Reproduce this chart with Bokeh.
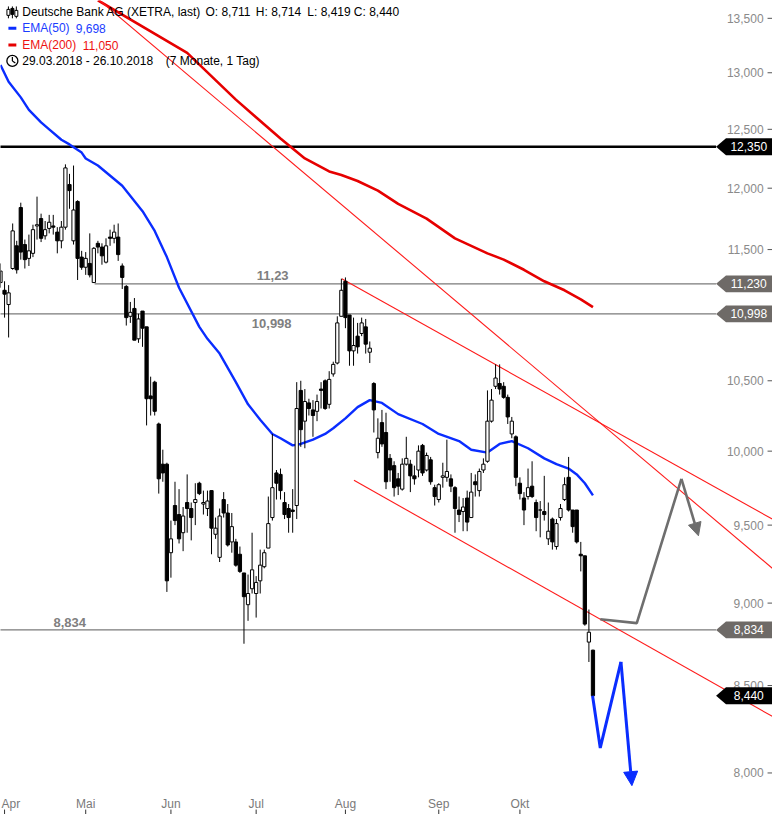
import math
from bokeh.plotting import figure
from bokeh.models import Range1d, Arrow, NormalHead, ColumnDataSource
from bokeh.core.properties import value
from bokeh.embed import file_html
from bokeh.resources import INLINE

# ---------------- data (Deutsche Bank AG, XETRA, daily, 29.03.2018 - 26.10.2018) ----------------
opens = [11.24, 11.18, 11.07, 11.35, 11.53, 11.84, 11.54, 11.43, 11.47, 11.69,
         11.75, 11.61, 11.67, 11.69, 11.64, 11.57, 11.68, 12.03, 11.57, 11.89,
         11.44, 11.36, 11.39, 11.24, 11.55, 11.52, 11.40, 11.60, 11.59, 11.60,
         11.37, 11.21, 10.98, 11.04, 10.81, 11.02, 10.90, 10.39, 10.49, 10.19,
         9.91, 9.91, 9.32, 9.63, 9.57, 9.45, 9.65, 9.61, 9.65, 9.78,
         9.64, 9.61, 9.73, 9.44, 9.29, 9.67, 9.58, 9.39, 9.39, 9.31,
         9.19, 8.99, 9.09, 9.06, 9.14, 9.23, 9.35, 9.55, 9.85, 9.84,
         9.65, 9.61, 9.60, 9.63, 10.43, 10.21, 10.34, 10.29, 10.28, 10.44,
         10.50, 10.33, 10.55, 10.63, 10.98, 11.25, 10.99, 10.72, 10.83, 10.85,
         10.90, 10.71, 10.48, 9.99, 10.20, 10.13, 9.95, 9.90, 9.81, 9.74,
         9.91, 9.91, 9.83, 9.87, 10.04, 9.87, 9.94, 9.75, 9.67, 9.82,
         9.82, 9.81, 9.75, 9.60, 9.59, 9.68, 9.55, 9.79, 9.73, 9.87,
         9.93, 10.21, 10.46, 10.48, 10.46, 10.38, 10.12, 10.10, 9.78, 9.68,
         9.69, 9.76, 9.65, 9.60, 9.59, 9.41, 9.54, 9.36, 9.55, 9.67,
         9.82, 9.60, 9.60, 9.31, 9.30, 8.76, 8.711]
highs = [11.39, 11.25, 11.22, 11.71, 11.57, 11.88, 11.58, 11.62, 11.70, 11.93,
         11.79, 11.73, 11.78, 11.78, 11.68, 11.73, 12.20, 12.12, 12.19, 11.90,
         11.49, 11.48, 11.63, 11.52, 11.57, 11.55, 11.59, 11.66, 11.70, 11.71,
         11.39, 11.22, 11.09, 11.12, 11.00, 11.02, 10.90, 10.53, 10.50, 10.20,
         10.01, 9.92, 9.53, 9.79, 9.74, 9.62, 9.84, 9.65, 9.78, 9.79,
         9.73, 9.73, 9.73, 9.55, 9.61, 9.72, 9.64, 9.58, 9.41, 9.36,
         9.19, 9.18, 9.45, 9.17, 9.34, 9.34, 9.69, 10.12, 9.87, 9.88,
         9.72, 9.64, 9.74, 10.49, 10.50, 10.44, 10.37, 10.36, 10.40, 10.49,
         10.51, 10.57, 10.64, 10.98, 11.27, 11.28, 10.99, 10.97, 10.93, 10.97,
         10.96, 10.79, 10.49, 10.23, 10.29, 10.27, 9.98, 9.93, 9.85, 9.95,
         10.10, 9.94, 9.90, 10.04, 10.05, 9.99, 9.96, 9.77, 9.78, 9.92,
         10.08, 9.84, 9.76, 9.69, 9.68, 9.73, 9.85, 9.84, 9.88, 9.95,
         10.43, 10.44, 10.62, 10.62, 10.49, 10.40, 10.24, 10.11, 9.82, 9.72,
         9.88, 9.93, 9.67, 9.66, 9.83, 9.65, 9.55, 9.54, 9.64, 9.82,
         9.96, 9.60, 9.60, 9.39, 9.30, 8.96, 8.714]
lows = [11.20, 10.97, 10.82, 11.34, 11.31, 11.42, 11.35, 11.37, 11.44, 11.58,
        11.56, 11.58, 11.63, 11.62, 11.47, 11.51, 11.66, 11.83, 11.54, 11.26,
        11.34, 11.30, 11.28, 11.24, 11.47, 11.38, 11.39, 11.53, 11.55, 11.41,
        11.19, 10.91, 10.93, 10.80, 10.78, 10.75, 10.18, 10.25, 10.25, 9.71,
        9.79, 9.07, 9.16, 9.50, 9.38, 9.33, 9.45, 9.40, 9.50, 9.70,
        9.57, 9.56, 9.31, 9.41, 9.26, 9.55, 9.36, 9.32, 9.23, 9.19,
        8.75, 8.89, 9.06, 8.91, 9.06, 9.22, 9.35, 9.53, 9.67, 9.67,
        9.54, 9.45, 9.45, 9.54, 10.03, 10.02, 10.25, 10.10, 10.21, 10.30,
        10.29, 10.30, 10.53, 10.62, 10.98, 10.89, 10.61, 10.61, 10.70, 10.83,
        10.70, 10.63, 10.13, 9.95, 10.03, 9.74, 9.79, 9.69, 9.70, 9.73,
        9.90, 9.72, 9.77, 9.82, 9.83, 9.86, 9.77, 9.63, 9.65, 9.75,
        9.79, 9.72, 9.45, 9.52, 9.46, 9.46, 9.55, 9.69, 9.69, 9.85,
        9.92, 10.20, 10.44, 10.40, 10.37, 10.19, 10.09, 9.76, 9.67, 9.50,
        9.67, 9.68, 9.46, 9.42, 9.53, 9.37, 9.34, 9.34, 9.53, 9.66,
        9.59, 9.45, 9.38, 9.20, 8.86, 8.64, 8.419]
closes = [11.33, 11.15, 11.16, 11.65, 11.34, 11.48, 11.42, 11.49, 11.66, 11.70,
          11.59, 11.66, 11.72, 11.68, 11.57, 11.68, 12.17, 11.98, 11.82, 11.43,
          11.36, 11.43, 11.30, 11.51, 11.52, 11.45, 11.53, 11.59, 11.64, 11.46,
          11.28, 10.97, 11.01, 10.80, 10.96, 10.89, 10.37, 10.37, 10.28, 9.81,
          9.85, 9.14, 9.41, 9.53, 9.41, 9.56, 9.61, 9.55, 9.67, 9.71,
          9.65, 9.66, 9.48, 9.48, 9.56, 9.58, 9.37, 9.49, 9.24, 9.20,
          9.04, 9.06, 9.21, 9.13, 9.24, 9.32, 9.51, 9.75, 9.78, 9.73,
          9.57, 9.55, 9.59, 10.30, 10.15, 10.35, 10.30, 10.25, 10.35, 10.43,
          10.30, 10.51, 10.62, 10.93, 11.18, 10.97, 10.72, 10.76, 10.75, 10.93,
          10.77, 10.74, 10.29, 10.09, 10.05, 9.79, 9.87, 9.75, 9.76, 9.91,
          9.95, 9.83, 9.81, 10.00, 9.85, 9.97, 9.79, 9.69, 9.77, 9.83,
          9.86, 9.76, 9.61, 9.57, 9.62, 9.52, 9.72, 9.77, 9.86, 9.91,
          10.21, 10.36, 10.52, 10.44, 10.38, 10.24, 10.21, 9.82, 9.71, 9.60,
          9.75, 9.69, 9.55, 9.60, 9.57, 9.46, 9.39, 9.51, 9.61, 9.77,
          9.60, 9.49, 9.39, 9.30, 8.87, 8.82, 8.440]

ema50_idx = [0, 2, 5, 7, 10, 12, 15, 17, 20, 21, 24, 30, 35, 38, 41, 44, 49, 51, 54, 58,
             61, 64, 67, 69, 72, 74, 77, 80, 82, 85, 88, 91, 94, 98, 104, 108, 113, 116, 120, 123,
             126, 130, 134, 137, 140, 142, 144, 146]
ema50_val = [13.07, 12.92, 12.78, 12.67, 12.56, 12.50, 12.41, 12.37, 12.30, 12.25,
             12.19, 12.02, 11.81, 11.65, 11.44, 11.20, 10.90, 10.81, 10.70, 10.49,
             10.33, 10.22, 10.12, 10.09, 10.04, 10.05, 10.08, 10.12, 10.16, 10.23,
             10.31, 10.36, 10.34, 10.26, 10.19, 10.12, 10.07, 10.01, 9.99, 10.05,
             10.07, 10.02, 9.95, 9.91, 9.88, 9.84, 9.78, 9.698]
ema200_idx = [24, 46, 58, 69, 75, 81, 84, 88, 93, 98, 105, 112, 120, 124, 129, 134, 139, 143, 146]
ema200_val = [13.67, 13.18, 12.76, 12.42, 12.25, 12.14, 12.11, 12.06, 11.98, 11.87,
              11.75, 11.59, 11.47, 11.42, 11.34, 11.25, 11.18, 11.11, 11.05]

month_labels = ["Apr", "Mai", "Jun", "Jul", "Aug", "Sep", "Okt"]
month_idx = [1, 21, 42, 63, 85, 108, 128]

ytick_vals = [8.0, 8.5, 9.0, 9.5, 10.0, 10.5, 11.0, 11.5, 12.0, 12.5, 13.0, 13.5]
ytick_labels = ["8,000", "8,500", "9,000", "9,500", "10,000", "10,500",
                "11,000", "11,500", "12,000", "12,500", "13,000", "13,500"]

level_vals = [12.35, 11.23, 10.998, 8.834]
level_labels = ["12,350", "11,230", "10,998", "8,834"]
level_colors = ["#000000", "#6e6a67", "#6e6a67", "#6e6a67"]
level_start_idx = [None, 23.2, None, None]
last_close = 8.44
last_close_label = "8,440"

note_labels = ["11,23", "10,998", "8,834"]
note_vals = [11.23, 10.998, 8.834]

# drawn trend lines (start index, start price, end index, end price)
trend_x0 = [24.4, 84.1, 87.1]
trend_p0 = [13.67, 11.27, 9.80]
trend_x1 = [190.2, 190.2, 190.2]
trend_p1 = [9.22, 9.54, 8.32]

# projection arrows
proj_grey_idx = [147.8, 156.8, 167.8, 172.0]
proj_grey_val = [8.90, 8.876, 9.81, 9.43]
proj_blue_idx = [145.9, 147.8, 152.9, 155.6]
proj_blue_val = [8.44, 8.14, 8.64, 7.93]

# ---------------- geometry helpers (reference pixel -> data) ----------------
PX_PER_DAY = 4.1
PX_PER_LN = 1456.4
REF_PX, REF_PRICE = 18.0, 13.5


def xd(px):
    return px / PX_PER_DAY


def yd(py):
    return REF_PRICE * math.exp(-(py - REF_PX) / PX_PER_LN)


def yoff(price, dpx):
    return price * math.exp(-dpx / PX_PER_LN)


FONT = value("Liberation Sans")

p = figure(width=772, height=814,
           x_range=Range1d(xd(0), xd(780)), y_range=Range1d(yd(822), yd(0)),
           y_axis_type="log", x_axis_location=None, y_axis_location=None,
           toolbar_location=None, output_backend="svg", min_border=0,
           outline_line_color=None, background_fill_color="white",
           border_fill_color="white")
p.xgrid.visible = False
p.ygrid.visible = False

# ---------------- level lines ----------------
x_left = xd(-2)
x_right = xd(723)
for v, st, col in zip(level_vals, level_start_idx, level_colors):
    x0 = x_left if st is None else st
    if col == "#000000":
        p.segment(x0=[x0], y0=[v], x1=[x_right], y1=[v], line_color="black", line_width=2.6)
    else:
        p.segment(x0=[x0], y0=[v], x1=[x_right], y1=[v], line_color="#7a7a7a", line_width=1.2)

# ---------------- EMAs ----------------
p.line(ema200_idx, ema200_val, line_color="#e60000", line_width=2.6)
p.line(ema50_idx, ema50_val, line_color="#0a2dff", line_width=2.4)

# ---------------- trend lines ----------------
p.segment(x0=trend_x0, y0=trend_p0, x1=trend_x1, y1=trend_p1, line_color="#ff1a1a", line_width=1.1)

# ---------------- candles ----------------
n = len(opens)
idx = list(range(n))
src = ColumnDataSource(dict(
    x=idx, h=highs, l=lows,
    top=[max(o, c) for o, c in zip(opens, closes)],
    bot=[min(o, c) for o, c in zip(opens, closes)],
    fill=["white" if c >= o else "black" for o, c in zip(opens, closes)],
))
p.segment(x0="x", y0="h", x1="x", y1="l", source=src, line_color="black", line_width=1)
p.vbar(x="x", top="top", bottom="bot", width=0.8, fill_color="fill",
       line_color="black", line_width=1, source=src)

# ---------------- projections ----------------
p.line(proj_grey_idx[:3], proj_grey_val[:3], line_color="#6e6e6e", line_width=2.6)
p.add_layout(Arrow(end=NormalHead(size=13, fill_color="#6e6e6e", line_color="#6e6e6e"),
                   x_start=proj_grey_idx[2], y_start=proj_grey_val[2],
                   x_end=proj_grey_idx[3], y_end=proj_grey_val[3],
                   line_color="#6e6e6e", line_width=2.6))
p.line(proj_blue_idx[:3], proj_blue_val[:3], line_color="#0a2dff", line_width=3)
p.add_layout(Arrow(end=NormalHead(size=14, fill_color="#0a2dff", line_color="#0a2dff"),
                   x_start=proj_blue_idx[2], y_start=proj_blue_val[2],
                   x_end=proj_blue_idx[3], y_end=proj_blue_val[3],
                   line_color="#0a2dff", line_width=3))

# ---------------- notes on level lines ----------------
note_dy = [-8, 10, -8]
note_x = [275, 274, 70]
for lab, v, dy, nx in zip(note_labels, note_vals, note_dy, note_x):
    p.text(x=[xd(nx)], y=[yoff(v, dy)], text=[lab], text_align="center", text_baseline="middle",
           text_font=FONT, text_font_style="bold", text_font_size="13px", text_color="#808080")

# ---------------- right-hand price scale ----------------
p.text(x=[xd(771)] * len(ytick_vals), y=ytick_vals, text=ytick_labels,
       text_align="right", text_baseline="middle", text_font=FONT,
       text_font_size="12px", text_color="#8a8a8a")
p.segment(x0=[xd(775)] * len(ytick_vals), y0=ytick_vals, x1=[xd(781)] * len(ytick_vals),
          y1=ytick_vals, line_color="#555555", line_width=1)

# price tags
tag_vals = level_vals + [last_close]
tag_labels = level_labels + [last_close_label]
tag_colors = level_colors + ["#000000"]
xs, ys = [], []
for v in tag_vals:
    xs.append([xd(723), xd(733), xd(782), xd(782), xd(733)])
    ys.append([v, yoff(v, -8.5), yoff(v, -8.5), yoff(v, 8.5), yoff(v, 8.5)])
p.patches(xs, ys, fill_color=tag_colors, line_color=None)
p.text(x=[xd(756)] * len(tag_vals), y=tag_vals, text=tag_labels, text_align="center",
       text_baseline="middle", text_font=FONT, text_font_size="12px", text_color="white")

# ---------------- month axis ----------------
p.text(x=[xd(1)], y=[yd(811)], text=[month_labels[0]], text_align="left",
       text_baseline="middle", text_font=FONT, text_font_size="12px", text_color="#7a7a7a")
p.text(x=month_idx[1:], y=[yd(811)] * (len(month_idx) - 1), text=month_labels[1:], text_align="center",
       text_baseline="middle", text_font=FONT, text_font_size="12px", text_color="#7a7a7a")
p.segment(x0=month_idx, y0=[yd(817)] * len(month_idx), x1=month_idx,
          y1=[yd(824)] * len(month_idx), line_color="#333333", line_width=1)

# ---------------- header ----------------
HY = [12, 28, 45, 61]
p.text(x=[xd(22)], y=[yd(HY[0])], text=["Deutsche Bank AG (XETRA, last)"], text_baseline="middle",
       text_font=FONT, text_font_size="12px", text_color="black")
for lab, px in zip(["O: 8,711", "H: 8,714", "L: 8,419", "C: 8,440"], [207, 258, 310, 357]):
    p.text(x=[xd(px)], y=[yd(HY[0])], text=[lab], text_baseline="middle",
           text_font=FONT, text_font_size="12px", text_color="black")
p.text(x=[xd(22), xd(76)], y=[yd(HY[1])] * 2, text=["EMA(50)", "9,698"], text_baseline="middle",
       text_font=FONT, text_font_size="12px", text_color="#1a3cff")
p.text(x=[xd(22), xd(83)], y=[yd(HY[2])] * 2, text=["EMA(200)", "11,050"], text_baseline="middle",
       text_font=FONT, text_font_size="12px", text_color="#ee1111")
p.text(x=[xd(22), xd(167)], y=[yd(HY[3])] * 2, text=["29.03.2018 - 26.10.2018", "(7 Monate, 1 Tag)"],
       text_baseline="middle", text_font=FONT, text_font_size="12px", text_color="black")
# legend dashes
p.segment(x0=[xd(8), xd(8)], y0=[yd(HY[1]), yd(HY[2])], x1=[xd(16), xd(16)], y1=[yd(HY[1]), yd(HY[2])],
          line_color=["#0a2dff", "#e60000"], line_width=3)
# candle icon
p.segment(x0=[xd(8), xd(12), xd(16)], y0=[yd(6), yd(6), yd(6)],
          x1=[xd(8), xd(12), xd(16)], y1=[yd(18), yd(18), yd(18)], line_color="black", line_width=1)
p.vbar(x=[xd(8), xd(12), xd(16)], top=[yd(9), yd(8), yd(10)], bottom=[yd(15), yd(14), yd(16)],
       width=xd(3), fill_color=["white", "black", "white"], line_color="black", line_width=1)
# clock icon
p.scatter(x=[xd(12)], y=[yd(HY[3])], size=11, marker="circle", fill_color=None,
          line_color="black", line_width=1.3)
p.segment(x0=[xd(12), xd(12)], y0=[yd(HY[3]), yd(HY[3])], x1=[xd(12), xd(15)],
          y1=[yd(HY[3] - 4), yd(HY[3] + 2)], line_color="black", line_width=1.2)

open("out.html", "w").write(file_html(p, INLINE))
